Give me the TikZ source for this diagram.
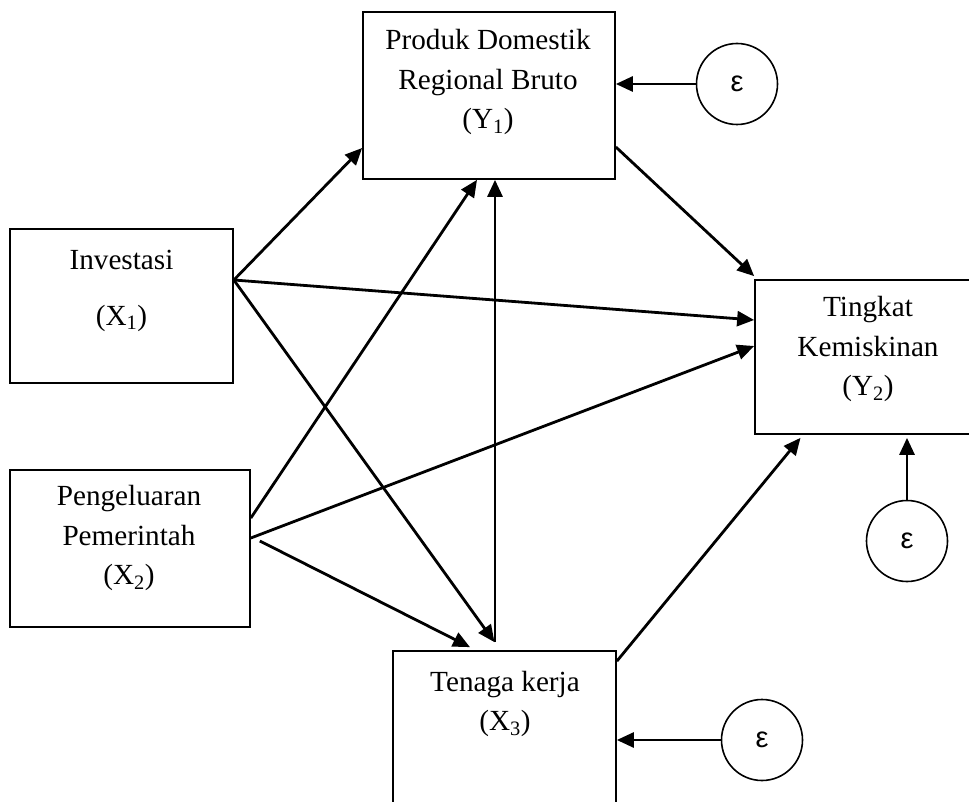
\documentclass[tikz,border=0pt]{standalone}
\usepackage{fontspec}
\setmainfont{Liberation Serif}
\newfontfamily\epsfont{Liberation Sans}
\usetikzlibrary{arrows.meta,calc}
\tikzset{
  boxnode/.style={draw, line width=1.7pt, rectangle, inner sep=0pt},
  lbl/.style={font=\fontsize{29.2}{39.5}\selectfont, align=center, inner sep=0pt},
  errnode/.style={draw, circle, line width=1.6pt, minimum size=81pt, inner sep=0pt, font=\epsfont\fontsize{29}{30}\selectfont},
  conn/.style={line width=2.8pt, -{Triangle[length=17pt,width=15pt]}}
}
\begin{document}
\begin{tikzpicture}[x=1pt,y=-1pt]
\useasboundingbox (0,0) rectangle (969,802);
\clip (0,0) rectangle (969,802);
% boxes
\node[boxnode, minimum width=252pt, minimum height=167pt] (y1) at (489,95.5) {};
\node[boxnode, minimum width=223pt, minimum height=154pt] (x1) at (121.5,306) {};
\node[boxnode, minimum width=240pt, minimum height=157pt] (x2) at (130,548.5) {};
\node[boxnode, minimum width=225pt, minimum height=154pt] (y2) at (867.5,357) {};
\node[boxnode, minimum width=223pt, minimum height=164pt] (x3) at (504.5,733) {};
% texts
\node[lbl] (t1) at (488,82) {Produk Domestik\\Regional Bruto\\(Y\textsubscript{1})};
\node[lbl] (t2a) at (121.5,260) {Investasi};
\node[lbl] (t2b) at (121.5,318) {(X\textsubscript{1})};
\node[lbl] (t3) at (129,538) {Pengeluaran\\Pemerintah\\(X\textsubscript{2})};
\node[lbl] (t4) at (868,349) {Tingkat\\Kemiskinan\\(Y\textsubscript{2})};
\node[lbl] (t5) at (505,704) {Tenaga kerja\\(X\textsubscript{3})};
% error circles
\node[errnode] (e1) at (737,84) {ε};
\node[errnode] (e2) at (907,541) {ε};
\node[errnode] (e3) at (762,740) {ε};
% connectors
\draw[conn] ([yshift=26pt]x1.east) -- ([yshift=-52.5pt]y1.west);
\draw[conn] ([yshift=26pt]x1.east) -- ([yshift=37pt]y2.west);
\draw[conn] ([yshift=26pt]x1.east) -- ([xshift=-10pt,yshift=8pt]x3.north);
\draw[conn] ([xshift=-9.5pt,yshift=8pt]x3.north) -- ([xshift=6pt]y1.south);
\draw[conn] ([yshift=30.5pt]x2.east) -- ([xshift=-12pt]y1.south);
\draw[conn] ([yshift=10.5pt]x2.east) -- ([yshift=11pt]y2.west);
\draw[conn] ([xshift=9pt,yshift=7.5pt]x2.east) -- ([xshift=-34.5pt,yshift=3pt]x3.north);
\draw[conn] ([yshift=-51.5pt]y1.east) -- ([yshift=3pt]y2.north west);
\draw[conn] ([yshift=-11pt]x3.north east) -- ([xshift=-67pt,yshift=-3pt]y2.south);
\draw[conn] (e1.west) -- (e1.west -| y1.east);
\draw[conn] (e2.north) -- ([yshift=-3pt]e2.north |- y2.south);
\draw[conn] (e3.west) -- (e3.west -| x3.east);
\end{tikzpicture}
\end{document}
